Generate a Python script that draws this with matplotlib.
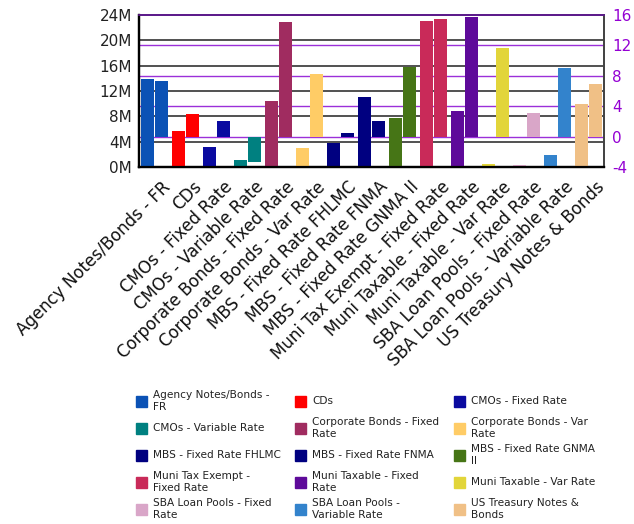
import numpy as np
import matplotlib
matplotlib.use("Agg")
import matplotlib.pyplot as plt
from matplotlib import transforms
from matplotlib.patches import Rectangle

plt.rcParams["axes.unicode_minus"] = False

# categories shown on the x axis
categories = ["Agency Notes/Bonds - FR", "CDs", "CMOs - Fixed Rate",
              "CMOs - Variable Rate", "Corporate Bonds - Fixed Rate",
              "Corporate Bonds - Var Rate", "MBS - Fixed Rate FHLMC",
              "MBS - Fixed Rate FNMA", "MBS - Fixed Rate GNMA II",
              "Muni Tax Exempt - Fixed Rate", "Muni Taxable - Fixed Rate",
              "Muni Taxable - Var Rate", "SBA Loan Pools - Fixed Rate",
              "SBA Loan Pools - Variable Rate", "US Treasury Notes & Bonds"]
legend_labels = ["Agency Notes/Bonds -\nFR", "CDs", "CMOs - Fixed Rate",
                 "CMOs - Variable Rate", "Corporate Bonds - Fixed\nRate",
                 "Corporate Bonds - Var\nRate", "MBS - Fixed Rate FHLMC",
                 "MBS - Fixed Rate FNMA", "MBS - Fixed Rate GNMA\nII",
                 "Muni Tax Exempt -\nFixed Rate", "Muni Taxable - Fixed\nRate",
                 "Muni Taxable - Var Rate", "SBA Loan Pools - Fixed\nRate",
                 "SBA Loan Pools -\nVariable Rate", "US Treasury Notes &\nBonds"]
# left axis (millions)
amount = [13.92, 5.72, 3.2, 1.16, 10.45, 3.05, 3.83, 11.08, 7.77,
          23.06, 8.88, 0.53, 0.26, 1.94, 9.98]
# right axis
rate = [7.31, 2.98, 2.06, -3.33, 15.05, 8.23, 0.48, 2.06, 9.15,
        15.45, 15.71, 11.64, 3.11, 9.02, 6.91]
colors = ["#0b52b5", "#ff0000", "#0a0aa0", "#008080", "#a02c60", "#ffcc66",
          "#000080", "#000080", "#467516", "#c92a59", "#5e0a9a", "#e2d53a",
          "#d9a6c8", "#3383cc", "#f0c086"]

W, H = 634, 524
fig = plt.figure(figsize=(W / 100, H / 100), dpi=100)
ax = fig.add_axes([139 / W, (H - 167) / H, (604 - 139) / W, (167 - 15) / H])
ax2 = ax.twinx()

x = np.arange(len(categories))
bw = 0.41
ax.bar(x - 0.225, amount, bw, color=colors, zorder=3)
ax2.bar(x + 0.225, rate, bw, color=colors, zorder=3)

ax.set_xlim(-0.5, len(categories) - 0.5)
ax.set_ylim(0, 24)
ax2.set_ylim(-4, 16)
ax.set_yticks(np.arange(0, 25, 4))
ax.set_yticklabels([f"{v}M" for v in range(0, 25, 4)])
ax2.set_yticks(np.arange(-4, 17, 4))

# gridlines (both scales) behind all bars
for v in range(4, 24, 4):
    ax.axhline(v, color="#333333", lw=1.2, zorder=1)
tr = transforms.blended_transform_factory(ax.transAxes, ax2.transData)
for v in range(0, 16, 4):
    ax.plot([0, 1], [v, v], transform=tr, color="#9b30d9", lw=1.0, zorder=1.5)

ax.tick_params(axis="y", length=0, pad=5, labelsize=11, labelcolor="#222222")
ax2.tick_params(axis="y", length=0, pad=6, labelsize=11, labelcolor="#9400d3")
ax.tick_params(axis="x", length=0, pad=0)
ax.set_xticks(x)
ax.set_xticklabels(categories, rotation=45, ha="right", va="top",
                   rotation_mode="anchor", fontsize=12, color="#111111")
off = transforms.ScaledTranslation(7 / 100, -11 / 100, fig.dpi_scale_trans)
for lab in ax.get_xticklabels():
    lab.set_transform(lab.get_transform() + off)

for a in (ax, ax2):
    a.spines["left"].set_color("black")
    a.spines["left"].set_linewidth(1.6)
    a.spines["bottom"].set_color("black")
    a.spines["bottom"].set_linewidth(1.6)
    a.spines["top"].set_color("#5c1a8a")
    a.spines["top"].set_linewidth(1.3)
    a.spines["right"].set_color("#444444")
    a.spines["right"].set_linewidth(1.3)

# legend, 3 columns
col_x = [136, 295, 454]
row_y = [401, 428, 455, 482, 509]
for i, (lab, c) in enumerate(zip(legend_labels, colors)):
    cx = col_x[i % 3]
    cy = row_y[i // 3]
    fig.patches.append(Rectangle((cx / W, (H - cy - 5.5) / H), 10.5 / W, 10.5 / H,
                                 transform=fig.transFigure, color=c))
    fig.text((cx + 17) / W, (H - cy) / H, lab, fontsize=7.6, color="#222222",
             ha="left", va="center", linespacing=1.2)

fig.savefig("out.png", dpi=100)
